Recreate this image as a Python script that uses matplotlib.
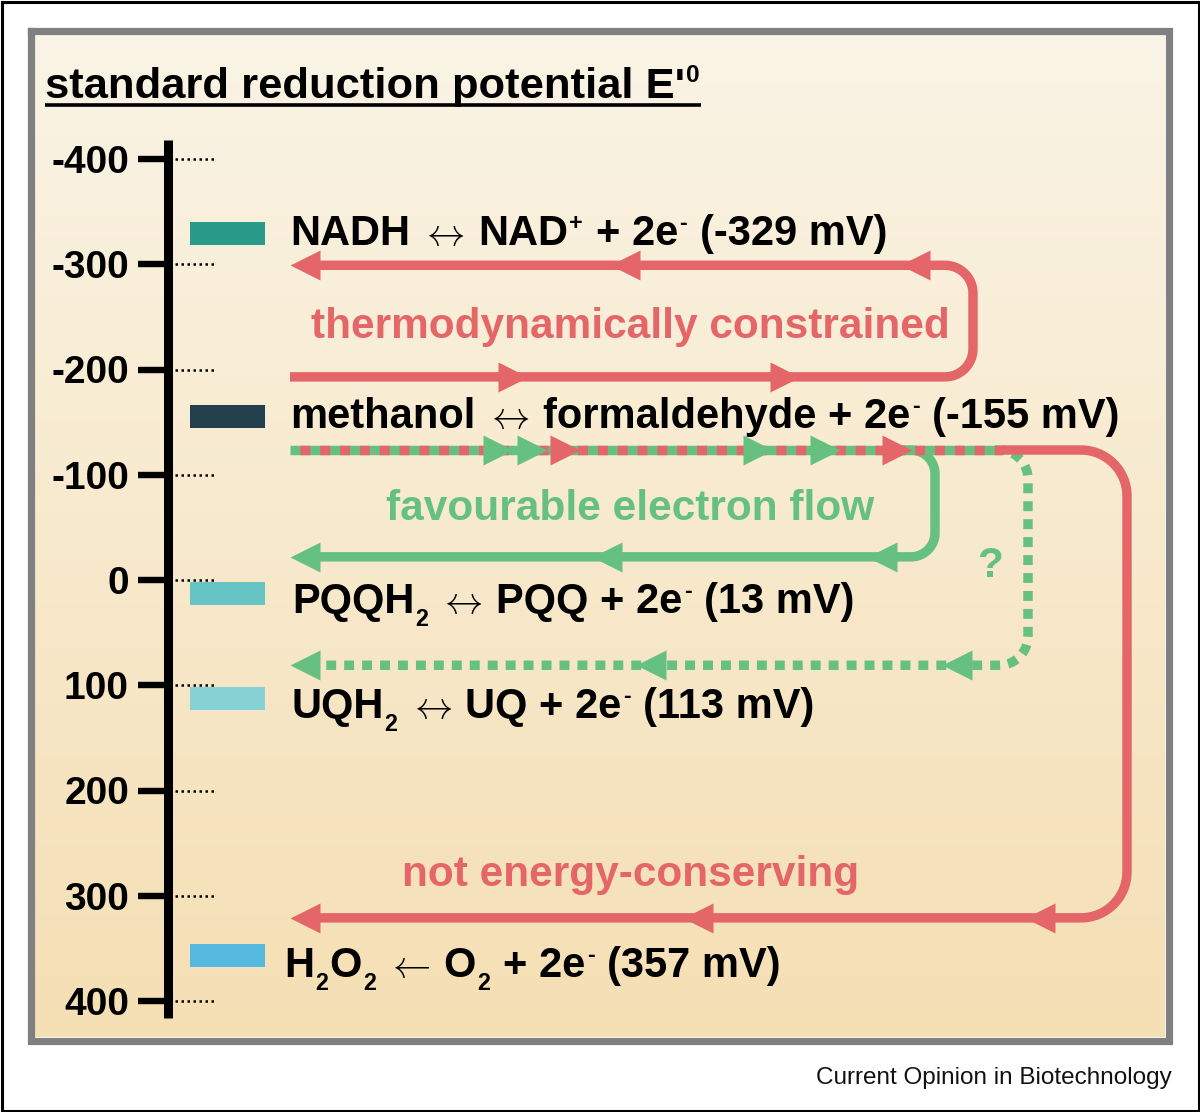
import numpy as np
import matplotlib
matplotlib.use("Agg")
import matplotlib.pyplot as plt

plt.rcParams['font.family'] = ['Liberation Sans', 'DejaVu Sans']
plt.rcParams['mathtext.fontset'] = 'cm'

DPI = 100
W, H = 1200, 1112
Y0, PX = 580.0, 1.0525          # pixel row of 0 mV, pixels per mV

RED = '#E46668'
GREEN = '#66C080'
GRAY = '#808080'

# ---- data -------------------------------------------------------------
tick_values = [-400, -300, -200, -100, 0, 100, 200, 300, 400]
tick_labels = ['-400', '-300', '-200', '-100', '0', '100', '200', '300', '400']

couples = ['NADH', 'methanol', 'PQQH2', 'UQH2', 'H2O2']
potentials = [-329, -155, 13, 113, 357]
couple_colors = ['#2A9A8A', '#233F4E', '#66C4C4', '#87D0D4', '#55B8DF']

LR = r'$\leftrightarrow$'
LA = r'$\leftarrow$'
# rich text pieces: (text, kind)  kind: b=bold, a=arrow glyph, sub, sup, sp=space
label_parts = [
    [('NADH', 'b'), ('', 'sp'), (LR, 'a'), ('', 'sp'), ('NAD', 'b'), ('+', 'sup'),
     ('', 'sp'), ('+ 2e', 'b'), ('-', 'sup'), ('', 'sp'), ('(-329 mV)', 'b')],
    [('methanol', 'b'), ('', 'sp'), (LR, 'a'), ('', 'sp'), ('formaldehyde + 2e', 'b'),
     ('-', 'sup'), ('', 'sp'), ('(-155 mV)', 'b')],
    [('PQQH', 'b'), ('2', 'sub'), ('', 'sp'), (LR, 'a'), ('', 'sp'), ('PQQ + 2e', 'b'),
     ('-', 'sup'), ('', 'sp'), ('(13 mV)', 'b')],
    [('UQH', 'b'), ('2', 'sub'), ('', 'sp'), (LR, 'a'), ('', 'sp'), ('UQ + 2e', 'b'),
     ('-', 'sup'), ('', 'sp'), ('(113 mV)', 'b')],
    [('H', 'b'), ('2', 'sub'), ('O', 'b'), ('2', 'sub'), ('', 'sp'), (LA, 'a'), ('', 'sp'),
     ('O', 'b'), ('2', 'sub'), ('', 'sp'), ('+ 2e', 'b'), ('-', 'sup'), ('', 'sp'), ('(357 mV)', 'b')],
]

# electron flow levels (mV) and arrowhead tips (x)
nadh_back, nadh_fwd = -299, -193
meoh_level = -123.5
pqq_level, uq_level, o2_level = -22, 81, 321

nadh_fwd_tips = [528, 800]
nadh_back_tips = [900, 610, 290]
meoh_green_tips = [513, 547, 773, 840]
meoh_red_tips = [580, 912]
pqq_tips = [867, 592, 290]
uq_tips = [942, 636, 290]
o2_tips = [1025, 683, 290]

# ---- layout helpers ---------------------------------------------------
LW = 6.8
HEAD = 43.2


def mv(p):
    return (p - Y0) / PX


def rounded(pts, r):
    P = np.array([(x, Y0 + y * PX) for x, y in pts], float)
    out = [P[0]]
    th = np.linspace(0, np.pi / 2, 20)[:, None]
    for i in range(1, len(P) - 1):
        a, b, c = P[i - 1], P[i], P[i + 1]
        u1 = (b - a) / np.linalg.norm(b - a)
        u2 = (c - b) / np.linalg.norm(c - b)
        s = b - u1 * r
        cen = s + u2 * r
        out.extend(cen - u2 * r * np.cos(th) + u1 * r * np.sin(th))
    out.append(P[-1])
    out = np.array(out)
    return out[:, 0], (out[:, 1] - Y0) / PX


def heads(xs, y, color, right=True):
    if right:
        verts = [(0, 0), (-1, 0.5), (-1, -0.5), (0, 0)]
    else:
        verts = [(0, 0), (1, 0.5), (1, -0.5), (0, 0)]
    ax.plot(xs, [y] * len(xs), ls='none', marker=verts, ms=HEAD, color=color,
            mew=0, zorder=5)


def rich(x, y, parts, size, color='black'):
    r = fig.canvas.get_renderer()
    em = size * DPI / 72
    off = 0.0
    for s, kind in parts:
        if kind == 'sp':
            off += 0.28 * em
            continue
        fs = size * 0.56 if kind in ('sub', 'sup') else size
        if kind == 'a':
            fs = size * 0.92
            off -= 0.07 * em
        dy = {'sub': -0.32 * em, 'sup': 0.36 * em}.get(kind, 0)
        t = ax.annotate(s, (x, y), xytext=(off, dy), textcoords='offset pixels',
                        fontsize=fs, fontweight='normal' if kind == 'a' else 'bold',
                        ha='left', va='baseline', color=color, zorder=6)
        off += t.get_window_extent(r).width + 0.03 * em
    return off


fig = plt.figure(figsize=(W / DPI, H / DPI), dpi=DPI)
ax = fig.add_axes([0, 0, 1, 1])
ax.axis('off')

# background gradient and frames
top = np.array([250, 244, 230]) / 255
bot = np.array([245, 223, 180]) / 255
g = np.linspace(0, 1, 256)[:, None, None]
img = np.repeat(top + (bot - top) * g, 2, axis=1)
ax.imshow(img, extent=(34, 1165, mv(1037), mv(34)), aspect='auto', zorder=0)
ax.plot([30.5, 1169, 1169, 30.5, 30.5], [mv(30.5), mv(30.5), mv(1041), mv(1041), mv(30.5)],
        color=GRAY, lw=5.2, solid_joinstyle='miter', zorder=1)
ax.plot([1.5, 1198.5, 1198.5, 1.5, 1.5], [mv(1.5), mv(1.5), mv(1110.5), mv(1110.5), mv(1.5)],
        color='black', lw=2.2, clip_on=False, zorder=1)

# potential axis
ax.plot([168, 168], [-418, 416], color='black', lw=6.5, solid_capstyle='butt', zorder=4)
for v, lab in zip(tick_values, tick_labels):
    ax.plot([138, 168], [v, v], color='black', lw=4.6, solid_capstyle='butt', zorder=4)
    ax.plot([175, 217], [v, v], color='black', lw=1.8, ls=(0, (1, 1.4)),
            dash_capstyle='butt', zorder=4)
    ax.text(129, v + 13.3, lab, ha='right', va='baseline', fontsize=28,
            fontweight='bold', zorder=6)

# title
tw = rich(45, mv(98), [("standard reduction potential E'", 'b'), ('0', 'sup')], 31.3)
ax.plot([45, 45 + tw], [mv(105), mv(105)], color='black', lw=2.6, solid_capstyle='butt')

# redox couples
ax.barh(potentials, 75, left=190, height=21.9, color=couple_colors, zorder=3)
label_shift = [10.7, 10.5, 18.3, 18.0, 20.0]
label_x = [290, 290, 292, 291, 284]
for parts, v, dv, lx in zip(label_parts, potentials, label_shift, label_x):
    rich(lx, v + dv, parts, 30)

# thermodynamically constrained loop
x, y = rounded([(290, nadh_fwd), (973, nadh_fwd), (973, nadh_back), (305, nadh_back)], 28)
ax.plot(x, y, color=RED, lw=LW, solid_capstyle='butt', zorder=3)
heads(nadh_fwd_tips, nadh_fwd, RED, right=True)
heads(nadh_back_tips, nadh_back, RED, right=False)

# methanol oxidation: shared start
ax.plot([290, 1002], [meoh_level, meoh_level], color=GREEN, lw=LW, solid_capstyle='butt', zorder=2)
x, y = rounded([(900, meoh_level), (935, meoh_level), (935, pqq_level), (305, pqq_level)], 24)
ax.plot(x, y, color=GREEN, lw=LW, solid_capstyle='butt', zorder=2)
x, y = rounded([(995, meoh_level), (1028, meoh_level), (1028, uq_level), (305, uq_level)], 29)
ax.plot(x, y, color=GREEN, lw=LW, ls=(0, (1.05, 0.85)), dash_capstyle='butt', zorder=2)
ax.plot([290, 1002], [meoh_level, meoh_level], color=RED, lw=LW, ls=(1.05, (1.05, 1.05)),
        dash_capstyle='butt', zorder=3)
x, y = rounded([(1002, meoh_level), (1127, meoh_level), (1127, o2_level), (305, o2_level)], 46)
ax.plot(x, y, color=RED, lw=LW, solid_capstyle='butt', zorder=3)
heads(meoh_green_tips, meoh_level, GREEN, right=True)
heads(meoh_red_tips, meoh_level, RED, right=True)
heads(pqq_tips, pqq_level, GREEN, right=False)
heads(uq_tips, uq_level, GREEN, right=False)
heads(o2_tips, o2_level, RED, right=False)

# captions
cap = dict(ha='center', va='baseline', fontsize=30.5, fontweight='bold', zorder=6)
ax.text(630, mv(338), 'thermodynamically constrained', color=RED, **cap)
ax.text(630, mv(520), 'favourable electron flow', color=GREEN, **cap)
ax.text(631, mv(886), 'not energy-conserving', color=RED, **cap)
ax.text(990, mv(577), '?', color=GREEN, **cap)

ax.text(1172, mv(1084), 'Current Opinion in Biotechnology', ha='right', va='baseline',
        fontsize=17.5, color='#111111')

ax.set_xlim(0, W)
ax.set_ylim(mv(H), mv(0))
fig.savefig('out.png', dpi=DPI)
